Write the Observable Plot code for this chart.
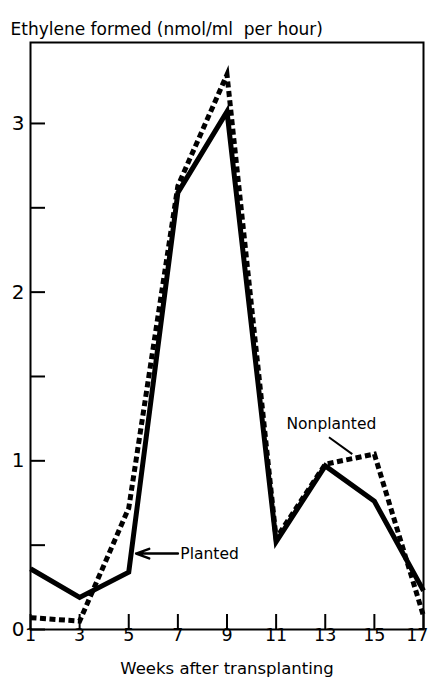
<!DOCTYPE html>
<html>
<head>
<meta charset="utf-8">
<script src="https://cdn.jsdelivr.net/npm/d3@7"></script>
<script src="https://cdn.jsdelivr.net/npm/@observablehq/plot@0.6"></script>
<style>
  html, body { margin: 0; padding: 0; background: #fff; }
  #chart svg { display: block; }
</style>
</head>
<body>
<div id="chart"></div>
<script>
// Ethylene formed per week after transplanting, planted vs nonplanted soil
const weeks = [1, 3, 5, 7, 9, 11, 13, 15, 17];
const planted = [0.36, 0.19, 0.34, 2.59, 3.07, 0.52, 0.97, 0.76, 0.23];
const nonplanted = [0.07, 0.05, 0.72, 2.63, 3.29, 0.54, 0.98, 1.04, 0.08];

const yTickValues = [0, 0.5, 1, 1.5, 2, 2.5, 3];
const yLabelValues = [0, 1, 2, 3];
const xTickValues = [1, 3, 5, 7, 9, 11, 13, 15, 17];

const titleText = "Ethylene formed (nmol/ml  per hour)";
const xLabelText = "Weeks after transplanting";

// Callout labels, placed in data units next to the series they name
const callouts = [
  {series: "Planted", x: 7.1, y: 0.45, anchor: "start"},
  {series: "Nonplanted", x: 13.25, y: 1.22, anchor: "middle"}
];
const leaders = [
  {x1: 7.0, y1: 0.45, x2: 5.3, y2: 0.45, arrow: true},
  {x1: 13.15, y1: 1.14, x2: 14.1, y2: 1.04, arrow: false}
];

const rows = (vals, series) => weeks.map((w, i) => ({week: w, value: vals[i], series}));
const data = [...rows(planted, "Planted"), ...rows(nonplanted, "Nonplanted")];

const font = "'DejaVu Sans', sans-serif";

const W = 428, H = 682, ML = 30, MR = 5, MT = 42, MB = 53;
const tickLen = 15;

const lineStyle = {stroke: "#000", strokeWidth: 5, strokeLinecap: "butt", strokeLinejoin: "miter", strokeMiterlimit: 10};

const chart = Plot.plot({
  width: W,
  height: H,
  marginLeft: ML,
  marginRight: MR,
  marginTop: MT,
  marginBottom: MB,
  style: {fontFamily: font, background: "#fff", color: "#000"},
  x: {domain: [1, 17], axis: null},
  y: {domain: [0, 3.48], axis: null},
  marks: [
    Plot.frame({stroke: "#000", strokeWidth: 2}),
    // short inward ticks along the left and bottom edges of the frame
    Plot.tickY(yTickValues, {y: d => d, stroke: "#000", strokeWidth: 2,
      insetRight: W - ML - MR - tickLen}),
    Plot.tickX(xTickValues, {x: d => d, stroke: "#000", strokeWidth: 2,
      insetTop: H - MT - MB - tickLen}),
    // tick labels
    Plot.text(yLabelValues, {y: d => d, frameAnchor: "left", dx: -6, textAnchor: "end",
      text: d => String(d), fontSize: 20, fill: "#000"}),
    Plot.text(xTickValues.filter(d => d < 17), {x: d => d, frameAnchor: "bottom", dy: 11,
      text: d => String(d), fontSize: 17.5, fill: "#000"}),
    Plot.text(xTickValues.filter(d => d === 17), {x: d => d, frameAnchor: "bottom", dy: 11, dx: 5,
      textAnchor: "end", text: d => String(d), fontSize: 17.5, fill: "#000"}),
    Plot.line(data.filter(d => d.series === "Planted"), {
      x: "week", y: "value", ...lineStyle
    }),
    Plot.line(data.filter(d => d.series === "Nonplanted"), {
      x: "week", y: "value", ...lineStyle, strokeDasharray: "6,3.5"
    }),
    Plot.arrow(leaders.filter(d => d.arrow), {
      x1: "x1", y1: "y1", x2: "x2", y2: "y2", stroke: "#000", strokeWidth: 2.5, headLength: 10, headAngle: 40
    }),
    Plot.link(leaders.filter(d => !d.arrow), {
      x1: "x1", y1: "y1", x2: "x2", y2: "y2", stroke: "#000", strokeWidth: 2
    }),
    Plot.text(callouts.filter(d => d.anchor === "start"), {
      x: "x", y: "y", text: "series", textAnchor: "start", fontSize: 15.5, fill: "#000"
    }),
    Plot.text(callouts.filter(d => d.anchor === "middle"), {
      x: "x", y: "y", text: "series", textAnchor: "middle", fontSize: 15.5, fill: "#000"
    }),
    Plot.text([titleText], {
      frameAnchor: "top-left", dx: -20, dy: -20, textAnchor: "start", fontSize: 17, fill: "#000"
    }),
    Plot.text([xLabelText], {
      frameAnchor: "bottom", dy: 44, fontSize: 16.5, fill: "#000"
    })
  ]
});

document.getElementById("chart").append(chart);
</script>
</body>
</html>
